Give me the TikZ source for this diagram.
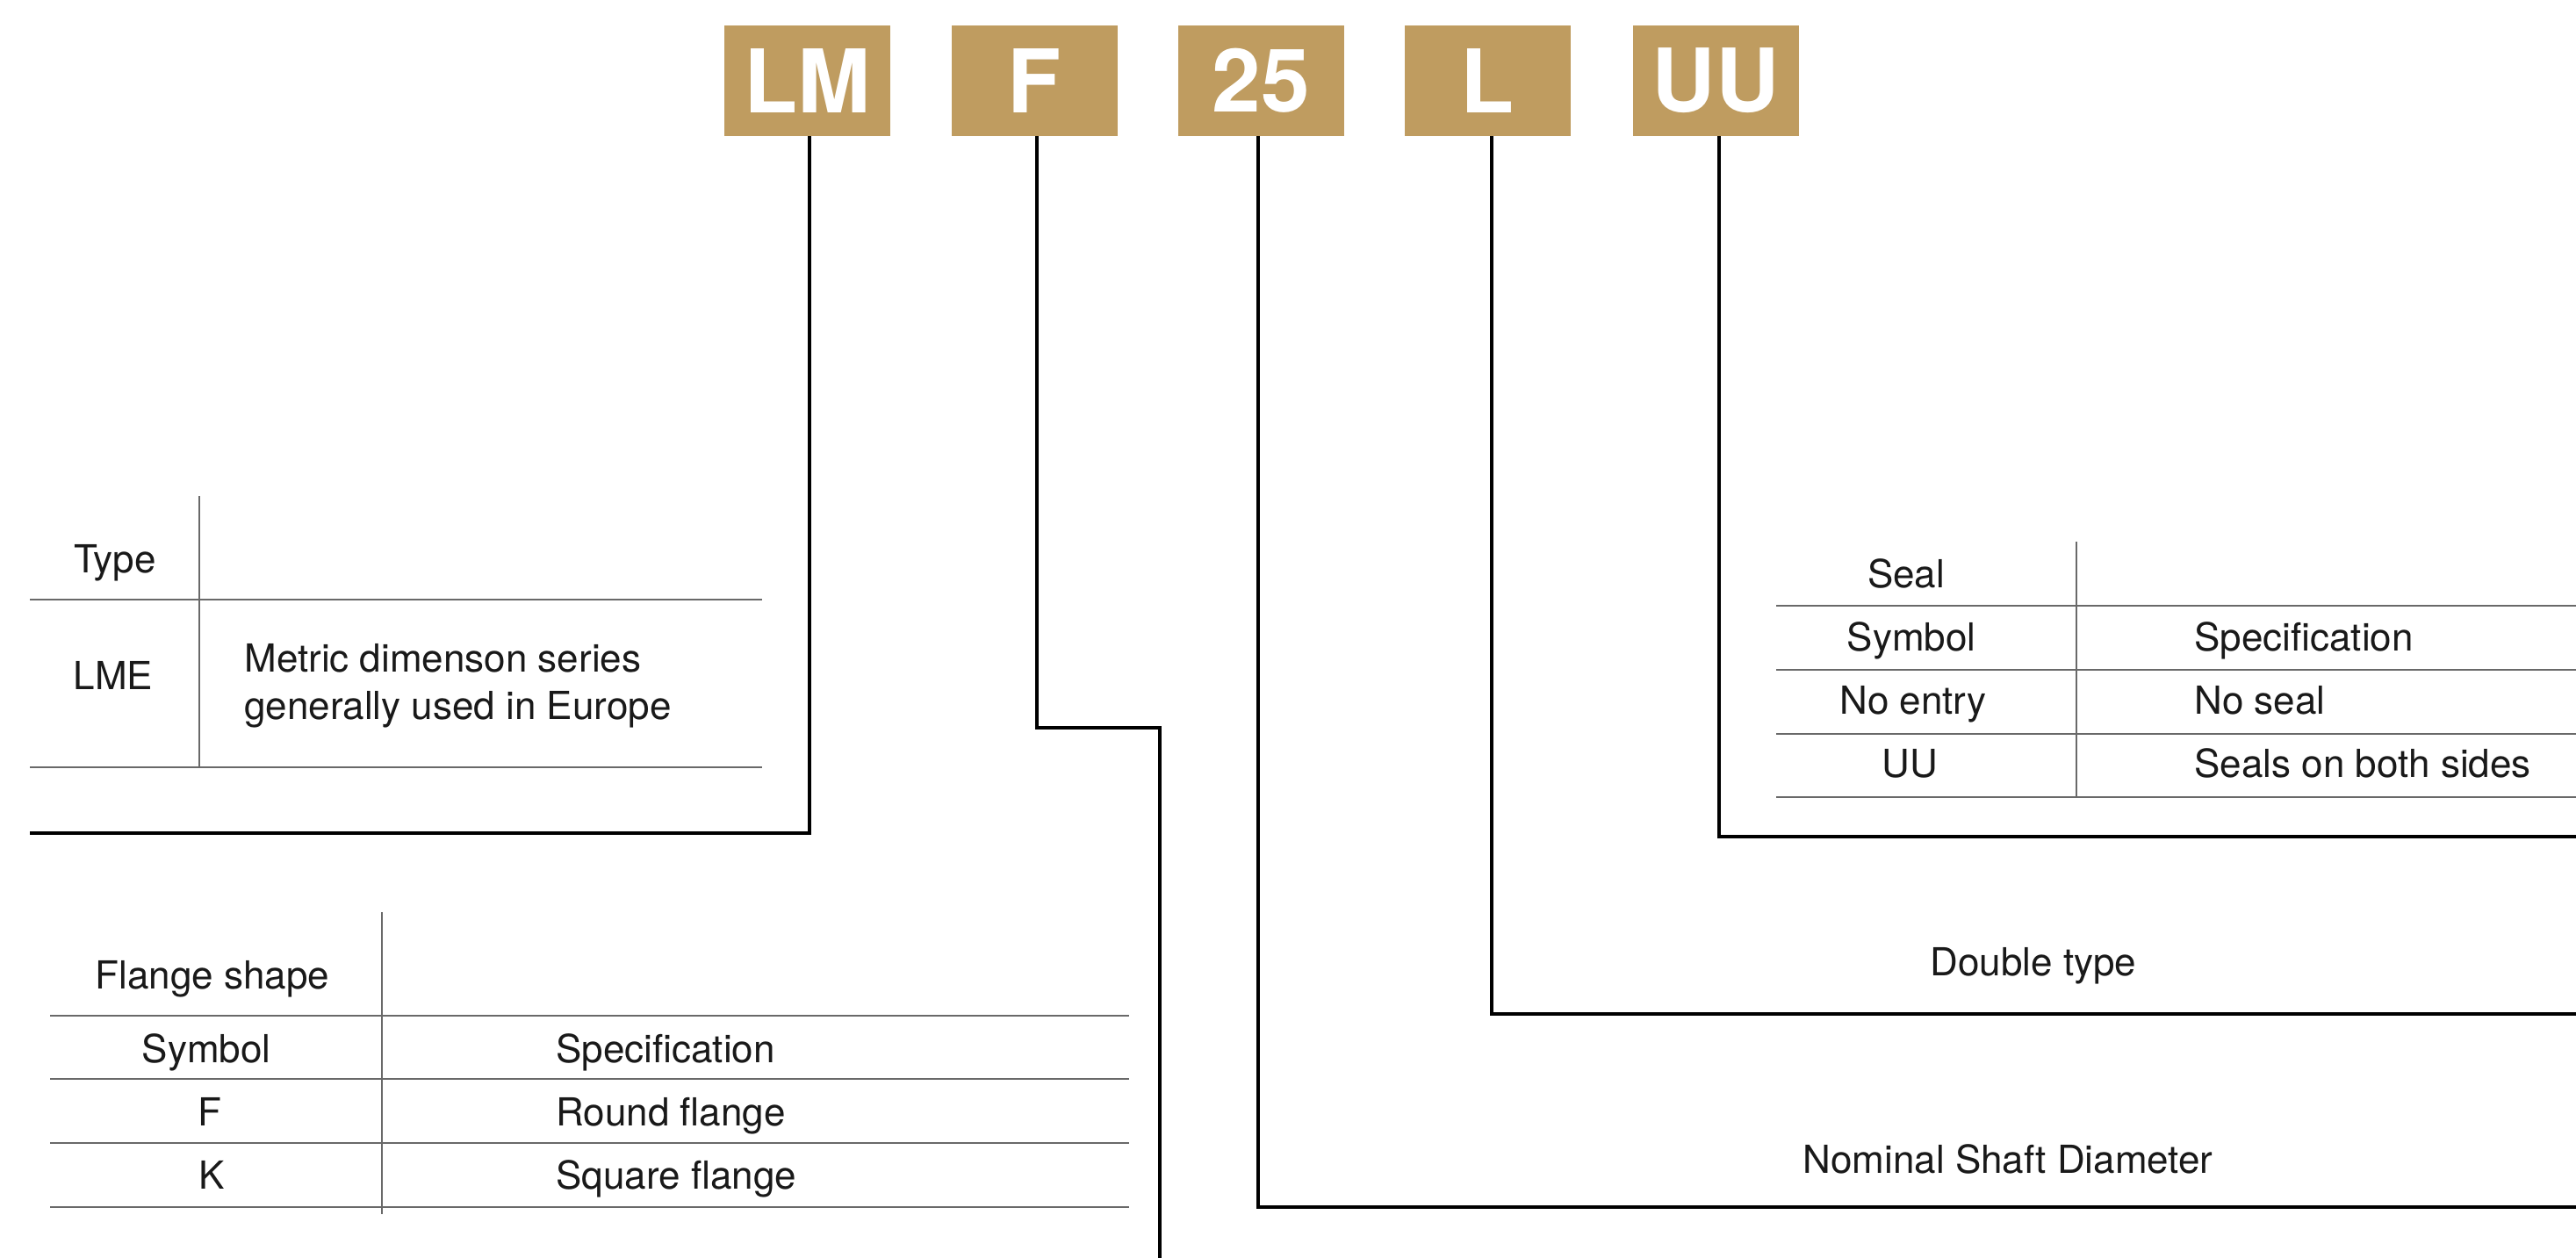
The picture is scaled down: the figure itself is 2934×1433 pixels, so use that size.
\documentclass[tikz,border=0pt]{standalone}
\usepackage{fontspec}
\setmainfont{TeX Gyre Heros}
\definecolor{gold}{RGB}{191,156,96}
\definecolor{rulegray}{RGB}{105,105,105}
\definecolor{ink}{RGB}{25,25,25}
\tikzset{
  txt/.style={font=\fontsize{22}{27}\selectfont, text=ink, inner sep=0pt, anchor=base},
  txtl/.style={txt, anchor=base west},
  gbox/.style={fill=gold, text=white, font=\fontsize{50}{50}\selectfont\bfseries,
    minimum width=94.5pt, minimum height=63pt, inner sep=0pt},
  conn/.style={draw=black, line width=2pt},
  hrule/.style={draw=rulegray, line width=1.4pt},
  vrule/.style={draw=rulegray, line width=1pt}
}
\begin{document}
\begin{tikzpicture}[x=0.5pt,y=-0.5pt]
\useasboundingbox (0,0) rectangle (2934,1433);

% code boxes
\node[gbox] (lm) at (919.5,92) {LM};
\node[gbox] (f)  at (1178.5,92) {F};
\node[gbox] (d)  at (1436.5,92) {25};
\node[gbox] (l)  at (1694.5,92) {L};
\node[gbox] (uu) at (1954,92) {UU};

% connector end points
\coordinate (lmend) at (34,949);
\coordinate (fcorner) at (1321,829);
\coordinate (fend) at (1321,1445);
\coordinate (dend) at (2945,1375);
\coordinate (lend) at (2945,1155);
\coordinate (uuend) at (2945,953);

\draw[conn] ([xshift=1.25pt]lm.south) |- (lmend);
\draw[conn] ([xshift=1.25pt]f.south) |- (fcorner) -- (fend);
\draw[conn] ([xshift=-1.75pt]d.south) |- (dend);
\draw[conn] ([xshift=2.25pt]l.south) |- (lend);
\draw[conn] ([xshift=2pt]uu.south) |- (uuend);

% Type table
\draw[hrule] (34,683) -- (868,683);
\draw[hrule] (34,874) -- (868,874);
\draw[vrule] (227,565) -- (227,875);
\node[txt] (typeh) at (131,652) {Type};
\node[txt] (lme) at (129,785) {LME};
\node[txtl, align=left] (metric) at (278,819) {Metric dimenson series\\generally used in Europe};

% Flange table
\draw[hrule] (57,1157) -- (1286,1157);
\draw[hrule] (57,1229) -- (1286,1229);
\draw[hrule] (57,1302) -- (1286,1302);
\draw[hrule] (57,1375) -- (1286,1375);
\draw[vrule] (435,1039) -- (435,1383);
\node[txt] (flangeh) at (242,1126) {Flange shape};
\node[txt] (fsym) at (235,1210) {Symbol};
\node[txtl] (fspec) at (633,1210) {Specification};
\node[txt] (ff) at (239,1282) {F};
\node[txtl] (fround) at (633,1282) {Round flange};
\node[txt] (fk) at (241,1354) {K};
\node[txtl] (fsquare) at (633,1354) {Square flange};

% Seal table
\draw[hrule] (2023,690) -- (2934,690);
\draw[hrule] (2023,763) -- (2934,763);
\draw[hrule] (2023,836) -- (2934,836);
\draw[hrule] (2023,908) -- (2934,908);
\draw[vrule] (2365,617) -- (2365,907);
\node[txt] (sealh) at (2171,669) {Seal};
\node[txt] (ssym) at (2177,741) {Symbol};
\node[txtl] (sspec) at (2499,741) {Specification};
\node[txt] (snone) at (2179,813) {No entry};
\node[txtl] (snoseal) at (2499,813) {No seal};
\node[txt] (suu) at (2175,885) {UU};
\node[txtl] (sboth) at (2499,885) {Seals on both sides};

% labels
\node[txtl] (double) at (2198,1111) {Double type};
\node[txtl] (nominal) at (2053,1336) {Nominal Shaft Diameter};
\end{tikzpicture}
\end{document}
